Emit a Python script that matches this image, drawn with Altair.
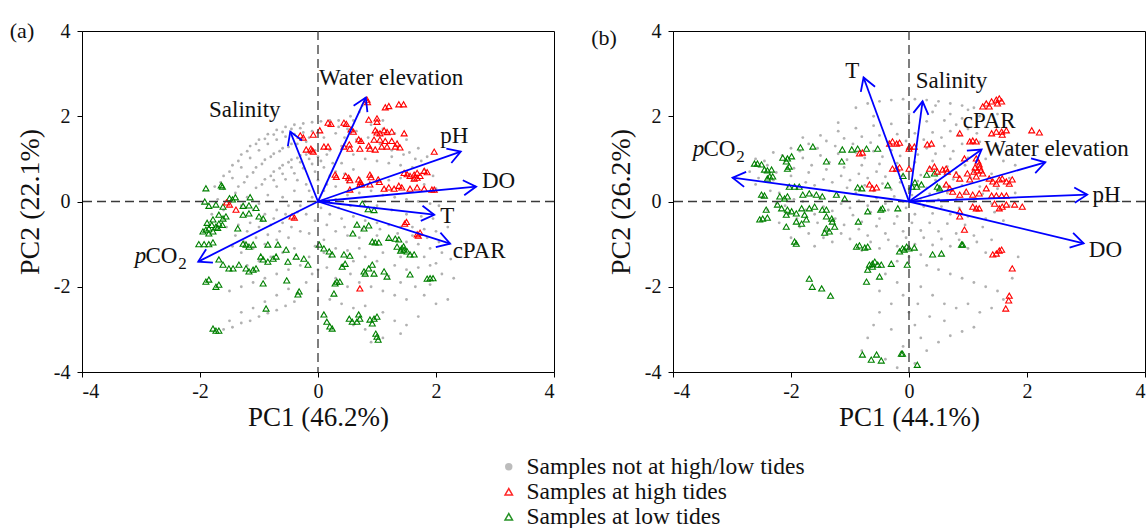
import math
import altair as alt
import pandas as pd

FONT = "Liberation Serif"
W, H = 472, 341
TICKS = [-4, -2, 0, 2, 4]
GROUPS = ["Samples not at high/low tides", "Samples at high tides", "Samples at low tides"]
FILLS = ["#a3a3a3", "transparent", "transparent"]
STROKES = ["transparent", "#ff0000", "#008000"]
SHAPES = ["circle", "triangle-up", "triangle-up"]
BLUE = "#0000ff"
CHEVRON = "M -0.6 1 L 0 0 L 0.6 1"

# ---------------- Panel (a) ----------------
gray_a = [
    (-1.75, 0.35), (-1.6, 0.6), (-1.45, 0.85), (-1.3, 1.1), (-1.15, 1.3), (-1.0, 1.45), (-0.85, 1.58),
    (-0.7, 1.68), (-0.55, 1.75), (-0.4, 1.8), (-0.25, 1.83), (-0.1, 1.86), (0.05, 1.88), (0.2, 1.9), (0.35, 1.9),
    (-1.6, 0.3), (-1.45, 0.55), (-1.3, 0.8), (-1.15, 1.02), (-1.0, 1.2), (-0.85, 1.35), (-0.7, 1.45),
    (-0.55, 1.52), (-0.4, 1.58), (-0.25, 1.62), (-0.1, 1.65),
    (-1.4, 0.2), (-1.25, 0.45), (-1.1, 0.68), (-0.95, 0.88), (-0.8, 1.05), (-0.65, 1.18), (-0.5, 1.28),
    (-0.35, 1.35), (-0.2, 1.4),
    (-1.2, 0.1), (-1.05, 0.32), (-0.9, 0.52), (-0.75, 0.7), (-0.6, 0.85), (-0.45, 0.98), (-0.3, 1.08), (-0.15, 1.15),
    (-1.0, -0.05), (-0.85, 0.15), (-0.7, 0.35), (-0.55, 0.52), (-0.4, 0.66), (-0.25, 0.78), (-0.1, 0.88), (0.05, 0.95),
    (-0.6, 0.1), (-0.4, 0.25), (-0.2, 0.4), (0.0, 0.5), (0.2, 0.6), (-0.3, -0.1), (-0.1, 0.1), (0.1, 0.25),
    (0.3, 0.35), (0.5, 0.45), (0.7, 0.55), (0.9, 0.6),
    (0.1, 1.5), (0.3, 1.6), (0.5, 1.7), (0.6, 1.9), (0.7, 2.1), (0.75, 2.25), (0.9, 1.8), (1.1, 1.7), (1.3, 1.6),
    (1.5, 1.45), (1.7, 1.25), (1.85, 1.05), (0.2, 1.2), (0.4, 1.3), (0.6, 1.1), (0.8, 1.0), (1.0, 0.95),
    (1.2, 0.9), (1.4, 0.85), (1.6, 0.8), (1.8, 0.75), (1.95, 0.6), (0.4, 0.9), (0.6, 0.75), (0.3, 0.05),
    (0.5, 0.15), (0.7, 0.2), (0.9, 0.25), (1.1, 0.15), (1.3, 0.1), (1.5, 0.05), (1.7, 0.0), (1.9, -0.05),
    (2.05, -0.1), (1.0, 0.45), (1.2, 0.5), (1.4, 0.55), (1.6, 0.5), (1.8, 0.4), (2.0, 0.3),
    (0.2, -0.3), (0.4, -0.4), (0.6, -0.35), (0.8, -0.45), (1.0, -0.5), (1.2, -0.55), (1.4, -0.6), (1.6, -0.6),
    (1.8, -0.65), (2.0, -0.7), (2.2, -0.6), (0.3, -0.7), (0.5, -0.8), (0.7, -0.85), (1.0, -0.8), (1.2, -0.9),
    (1.5, -0.95), (1.7, -1.0), (1.9, -1.1), (2.1, -1.2), (2.25, -1.35), (0.1, -0.9), (0.2, -1.3), (0.4, -1.5),
    (0.6, -1.4), (0.8, -1.3), (1.0, -1.4), (1.3, -1.5), (1.5, -1.6), (1.7, -1.55), (1.9, -1.5), (2.1, -1.7),
    (2.3, -1.8), (0.3, -1.8), (0.5, -2.0), (0.7, -1.9), (0.9, -2.0), (1.1, -2.1), (1.3, -2.2), (1.5, -2.3),
    (1.8, -2.2), (2.0, -2.4), (2.2, -2.3), (0.4, -2.4), (0.6, -2.5), (0.8, -2.45), (1.1, -2.6), (1.3, -2.8),
    (1.5, -2.9), (1.7, -2.7), (0.6, -2.9), (0.8, -3.0), (0.9, -3.3), (1.1, -3.2), (1.4, -3.1), (0.2, -2.3),
    (0.0, -2.1), (-0.2, -1.9), (0.0, -1.6), (-0.15, -1.3),
    (-0.2, -0.3), (-0.4, -0.4), (-0.6, -0.5), (-0.8, -0.55), (-1.0, -0.6), (-1.2, -0.7), (-1.4, -0.8),
    (-0.3, -0.7), (-0.5, -0.85), (-0.7, -0.9), (-0.9, -1.0), (-1.1, -1.1), (-1.3, -1.2), (-0.4, -1.1),
    (-0.6, -1.2), (-0.8, -1.3), (-1.0, -1.4), (-1.2, -1.5), (-0.3, -1.5), (-0.5, -1.6), (-0.7, -1.7),
    (-0.9, -1.8), (-1.1, -1.9), (-1.3, -2.0), (-1.5, -2.1), (-1.6, -0.2), (-1.8, -0.3), (-1.7, 0.05),
    (-1.5, 0.0), (-1.3, -0.1), (-1.1, -0.2), (-0.9, -0.3), (-0.7, -0.2), (-0.5, -0.1),
    (-1.6, -3.0), (-1.45, -2.95), (-1.3, -2.85), (-1.15, -2.8), (-1.0, -2.7), (-0.85, -2.62), (-0.7, -2.55),
    (-0.55, -2.45), (-0.4, -2.35), (-1.5, -2.8), (-1.3, -2.6), (-1.1, -2.5), (-0.9, -2.35), (-0.7, -2.2), (-0.5, -2.05),
    (-1.65, 0.45), (-1.5, 0.7), (-1.35, 0.95), (-1.2, 1.18), (-1.05, 1.35), (-0.9, 1.47), (-0.75, 1.57),
    (-0.6, 1.63), (-0.45, 1.7), (-0.3, 1.72), (-1.35, 0.35), (-1.2, 0.58), (-1.05, 0.8), (-0.9, 0.98),
    (-0.75, 1.12), (-0.6, 1.25), (-0.45, 1.35), (-0.3, 1.45), (-0.15, 1.5), (-0.95, 0.4), (-0.8, 0.6),
    (-0.65, 0.78), (-0.5, 0.92), (-0.35, 1.02), (-0.2, 1.1), (-0.05, 1.2), (-0.75, 0.5), (-0.6, 0.65),
    (-0.45, 0.8), (-0.3, 0.92), (-0.15, 1.0), (0.0, 1.05), (0.15, 1.1), (-0.05, 0.7), (0.1, 0.8),
    (0.25, 0.9), (0.3, 0.7), (0.45, 0.65), (0.15, 0.4), (-0.15, 0.25), (-0.35, 0.5), (0.05, -0.15),
    (0.35, -0.15), (0.55, -0.1), (0.8, 0.0), (1.0, -0.1), (1.25, -0.2), (1.5, -0.3), (1.75, -0.35),
    (1.95, -0.4), (0.15, -0.55), (0.45, -0.6), (0.75, -0.65), (1.05, -0.65), (1.35, -0.75), (1.6, -0.8),
    (1.85, -0.85), (2.05, -0.95), (-0.05, -0.45), (-0.15, -0.75), (-0.05, -1.05), (0.1, -1.2), (0.3, -1.1),
    (0.5, -1.15), (0.7, -1.1), (1.1, -1.2), (1.4, -1.3), (1.8, -1.3), (2.0, -1.45), (1.2, -1.75),
    (1.4, -1.9), (1.65, -2.0), (1.9, -1.95), (0.55, -1.7), (0.15, -1.55), (-0.1, -1.7), (-0.35, -0.25),
    (-0.55, -0.3), (-0.75, -0.4), (-0.95, -0.45), (-1.15, -0.5), (-1.35, -0.55), (-1.55, -0.6),
    (-0.45, -0.6), (-0.65, -0.7), (-0.85, -0.78), (-1.05, -0.85), (-1.25, -0.95), (-1.45, -1.05),
    (0.45, 1.5), (0.65, 1.45), (0.85, 1.5), (1.05, 1.35), (1.25, 1.2), (1.45, 1.1), (1.65, 1.0),
    (1.25, 1.05), (1.55, 1.15), (1.75, 0.95), (0.55, 2.0), (0.65, 1.65), (0.35, 1.75), (1.1, 1.9),
]
red_a = [
    (0.83, 2.39), (0.84, 2.33), (1.14, 2.21), (1.20, 2.24), (1.37, 2.28), (1.45, 2.28), (1.0, 1.95), (1.0, 1.87),
    (0.86, 1.92), (0.17, 1.85), (0.22, 1.82), (0.03, 1.67), (0.44, 1.85), (0.48, 1.82), (0.56, 1.69), (0.6, 1.64),
    (0.97, 1.67), (1.0, 1.62), (1.05, 1.60), (1.12, 1.67), (1.17, 1.63), (1.25, 1.64), (1.46, 1.60),
    (0.69, 1.46), (0.73, 1.42), (0.95, 1.45), (1.05, 1.45), (1.14, 1.42), (1.25, 1.42), (1.34, 1.36),
    (0.17, 1.29), (0.10, 1.29), (0.44, 1.29), (0.53, 1.34), (0.54, 1.24), (0.71, 1.24), (0.86, 1.31), (0.88, 1.24),
    (0.97, 1.22), (1.08, 1.29), (1.17, 1.29), (1.31, 1.29), (1.39, 1.27), (1.97, 1.17),
    (0.29, 0.63), (0.31, 0.58), (0.47, 0.60), (0.52, 0.56), (0.54, 0.50), (0.69, 0.52), (0.72, 0.46), (0.74, 0.40),
    (0.88, 0.63), (0.9, 0.57), (1.02, 0.52), (1.04, 0.46),
    (1.46, 0.67), (1.51, 0.64), (1.56, 0.60), (1.63, 0.63), (1.68, 0.67), (1.73, 0.60), (1.80, 0.72), (1.85, 0.69),
    (1.63, 0.54), (1.68, 0.56),
    (1.12, 0.30), (1.20, 0.33), (1.29, 0.30), (1.37, 0.37), (1.42, 0.33), (1.56, 0.30), (1.68, 0.33), (1.80, 0.30),
    (1.93, 0.28), (1.97, 0.28), (0.54, 0.28), (0.88, 0.40), (0.71, 0.40),
    (-0.30, 1.55), (-0.25, 1.50), (-0.12, 1.24), (-0.08, 1.17), (-0.10, 1.20), (-0.08, 1.57), (-0.2, 1.22),
    (-0.44, -0.35), (-0.40, -0.38), (-1.50, -0.07), (-1.39, -0.19), (-1.55, -0.02),
    (1.47, -0.52), (1.50, -0.48), (1.68, -0.77), (1.73, -0.73), (1.70, -0.80), (0.71, -2.04),
]
green_a = [
    (-1.95, -0.70), (-1.90, -0.66), (-1.85, -0.63), (-1.78, -0.70), (-1.73, -0.59), (-1.68, -0.52), (-1.61, -0.40),
    (-1.56, -0.35), (-1.68, -0.31), (-1.78, -0.42), (-1.85, -0.75), (-1.80, -0.55), (-1.70, -0.62), (-1.62, -0.55),
    (-1.88, -0.50), (-2.02, -1.00), (-1.93, -1.00), (-1.85, -1.00), (-1.78, -0.96),
    (-1.68, -1.36), (-1.61, -1.48), (-1.51, -1.57), (-1.44, -1.57),
    (-1.90, -1.88), (-1.85, -1.83), (-1.73, -2.00), (-1.68, -1.95),
    (-1.78, -2.98), (-1.73, -3.03), (-1.68, -3.03),
    (-1.85, -0.10), (-1.73, -0.07), (-1.61, -0.12), (-1.27, -0.10), (-1.17, -0.09), (-1.05, -0.15), (-1.92, 0.0),
    (-1.5, 0.08), (-1.4, 0.1), (-1.45, 0.05), (-1.15, 0.1),
    (-1.00, -0.35), (-0.93, -0.40), (-1.27, -0.31), (-1.17, -0.28), (-1.36, -0.63),
    (-1.27, -0.99), (-1.22, -1.01), (-1.17, -1.06), (-1.10, -1.01),
    (-0.97, -1.29), (-0.93, -1.36), (-0.85, -1.41), (-0.76, -1.34), (-0.71, -1.29),
    (-0.85, -1.01), (-0.68, -1.01), (-0.54, -1.13),
    (-1.34, -1.48), (-1.22, -1.57), (-1.17, -1.64), (-1.10, -1.60), (-1.05, -1.57),
    (-0.93, -1.92), (-0.53, -1.85), (-0.37, -1.29), (-0.24, -1.34), (-0.17, -1.48), (-0.51, -1.41),
    (-0.32, -2.11), (-0.34, -2.18), (-0.88, -2.51),
    (-1.90, 0.31), (-1.64, 0.38), (-1.62, 0.35),
    (0.02, -1.01), (0.10, -1.10), (0.19, -1.17), (0.24, -1.24), (0.44, -1.24), (0.54, -1.27), (0.59, -0.75),
    (0.66, -0.54), (0.78, -0.63), (0.86, -0.56),
    (0.41, -1.53), (0.46, -1.46), (0.78, -1.64), (0.80, -1.69), (0.86, -1.57), (0.92, -1.48), (0.95, -1.69),
    (1.12, -1.64), (1.17, -1.76),
    (0.92, -0.94), (0.97, -0.96), (1.03, -0.96), (1.20, -0.85), (1.31, -0.87), (1.34, -1.06), (1.42, -1.10),
    (1.46, -1.13), (1.51, -1.17), (1.56, -1.24), (1.63, -1.24), (1.37, -0.89), (1.40, -1.15), (1.45, -1.05),
    (1.56, -1.71), (1.85, -1.81), (1.90, -1.80), (1.95, -1.80),
    (0.29, -1.92), (0.32, -1.88), (0.37, -1.88), (0.27, -2.16),
    (0.10, -2.65), (0.15, -2.82), (0.20, -2.93), (0.24, -2.98),
    (0.53, -2.75), (0.58, -2.82), (0.66, -2.82), (0.69, -2.65), (0.71, -2.75),
    (0.88, -2.77), (0.95, -2.75), (1.00, -2.70), (0.92, -2.86),
    (0.98, -3.10), (1.00, -3.17), (1.02, -3.24),
    (0.75, -0.05), (0.85, -0.18), (0.95, -0.2),
]
vars_a = ["Water elevation", "Salinity", "pH", "DO", "T", "cPAR", "pCO2"]
tip_x_a = [0.81, -0.47, 2.42, 2.68, 1.97, 2.24, -2.03]
tip_y_a = [2.44, 1.64, 1.17, 0.35, -0.31, -0.99, -1.41]
lab_x_a = [1.24, -1.24, 2.31, 3.06, 2.19, 2.73, -2.67]
lab_y_a = [2.89, 2.14, 1.53, 0.47, -0.35, -1.17, -1.29]

# ---------------- Panel (b) ----------------
gray_b = [
    (-0.9, 2.2), (-0.7, 2.3), (-0.5, 2.35), (-0.3, 2.38), (-0.1, 2.4), (0.1, 2.4), (0.3, 2.38), (0.5, 2.35),
    (0.7, 2.3), (0.9, 2.25), (1.1, 2.2),
    (-1.5, 1.55), (-1.2, 1.65), (-0.9, 1.72), (-0.6, 1.78), (-0.3, 1.82), (0.0, 1.85), (0.3, 1.88), (0.6, 1.9),
    (0.9, 1.95), (1.2, 2.0), (1.5, 2.05), (0.4, 2.1), (0.7, 2.05), (1.0, 2.15),
    (-2.6, 1.0), (-2.3, 1.15), (-2.0, 1.25), (-1.7, 1.35), (-1.4, 1.42), (-1.1, 1.48), (-0.8, 1.52), (-0.5, 1.55),
    (-0.2, 1.58), (0.1, 1.6), (0.4, 1.62), (0.7, 1.65), (1.0, 1.7), (1.3, 1.75),
    (-2.7, 0.7), (-2.4, 0.85), (-2.1, 0.95), (-1.8, 1.02), (-1.5, 1.08), (-1.2, 1.12), (-0.9, 1.15), (-0.6, 1.18),
    (-0.3, 1.2), (0.0, 1.22), (0.3, 1.25), (0.6, 1.3), (0.9, 1.35), (1.2, 1.4), (1.5, 1.3), (1.7, 1.2),
    (-2.6, 0.4), (-2.3, 0.5), (-2.0, 0.6), (-1.7, 0.68), (-1.4, 0.75), (-1.1, 0.8), (-0.8, 0.85), (-0.5, 0.88),
    (-0.2, 0.9), (0.1, 0.92), (0.4, 0.95), (0.7, 1.0), (1.0, 1.02), (1.3, 1.0), (1.6, 0.95), (1.8, 0.85),
    (-2.5, 0.1), (-2.2, 0.2), (-1.9, 0.3), (-1.6, 0.38), (-1.3, 0.45), (-1.0, 0.5), (-0.7, 0.55), (-0.4, 0.58),
    (-0.1, 0.6), (0.2, 0.62), (0.5, 0.65), (0.8, 0.68), (1.1, 0.7), (1.4, 0.65), (1.7, 0.55),
    (-2.4, -0.2), (-2.1, -0.1), (-1.8, 0.0), (-1.5, 0.08), (-1.2, 0.15), (-0.9, 0.2), (-0.6, 0.25), (-0.3, 0.28),
    (0.0, 0.3), (0.3, 0.32), (0.6, 0.35), (0.9, 0.38), (1.2, 0.35), (1.5, 0.3), (1.8, 0.2),
    (-2.2, -0.5), (-1.9, -0.4), (-1.6, -0.3), (-1.3, -0.22), (-1.0, -0.15), (-0.7, -0.1), (-0.4, -0.05),
    (-0.1, 0.0), (0.2, 0.02), (0.5, 0.05), (0.8, 0.05), (1.1, 0.0), (1.4, -0.05), (1.7, -0.1),
    (-2.0, -0.85), (-1.7, -0.75), (-1.4, -0.65), (-1.1, -0.55), (-0.8, -0.48), (-0.5, -0.4), (-0.2, -0.35),
    (0.1, -0.3), (0.4, -0.28), (0.7, -0.3), (1.0, -0.35), (1.3, -0.4), (1.6, -0.45),
    (-1.6, -1.05), (-1.3, -0.95), (-1.0, -0.88), (-0.7, -0.8), (-0.4, -0.75), (-0.1, -0.7), (0.2, -0.68),
    (0.5, -0.7), (0.8, -0.75), (1.1, -0.8), (1.4, -0.9),
    (-0.8, -1.15), (-0.5, -1.1), (-0.2, -1.05), (0.1, -1.0), (0.4, -1.02), (0.7, -1.05), (1.0, -1.1), (1.3, -1.2),
    (-0.6, -1.5), (-0.4, -1.7), (-0.2, -1.9), (-0.1, -2.2), (-0.3, -2.4), (-0.5, -2.6), (-0.6, -2.9), (-0.7, -3.2),
    (-0.8, -3.5), (0.0, -2.6), (0.1, -2.9), (0.2, -3.2), (0.3, -3.5), (0.1, -3.8), (-0.2, -3.9), (-0.4, -3.7),
    (0.5, -3.3), (0.7, -3.15), (0.9, -3.05), (1.1, -2.95), (0.3, -1.5), (0.5, -1.6), (0.7, -1.7), (0.9, -1.8),
    (1.1, -1.9), (1.3, -2.0), (1.5, -2.1), (0.2, -2.0), (0.4, -2.2), (0.6, -2.4), (0.8, -2.5), (1.0, -2.4),
    (1.2, -2.6), (1.4, -2.5), (1.6, -2.3), (1.75, -1.8), (1.85, -1.3), (0.0, -1.3), (-0.2, -1.4), (0.2, -1.25),
    (-0.3, -3.0), (-0.1, -3.4), (0.15, -2.4), (-0.5, -2.1), (0.6, -2.8), (0.35, -2.7),
    (-2.45, 0.95), (-2.15, 1.08), (-1.85, 1.18), (-1.55, 1.25), (-1.25, 1.3), (-0.95, 1.35), (-0.65, 1.38),
    (-0.35, 1.4), (-0.05, 1.42), (0.25, 1.45), (0.55, 1.5), (0.85, 1.55), (-2.55, 0.55), (-2.25, 0.68),
    (-1.95, 0.78), (-1.65, 0.85), (-1.35, 0.92), (-1.05, 0.98), (-0.75, 1.02), (-0.45, 1.05), (-0.15, 1.07),
    (0.15, 1.1), (0.45, 1.12), (0.75, 1.18), (-2.35, 0.25), (-2.05, 0.35), (-1.75, 0.45), (-1.45, 0.52),
    (-1.15, 0.6), (-0.85, 0.65), (-0.55, 0.7), (-0.25, 0.72), (0.05, 0.75), (0.35, 0.8), (0.65, 0.82),
    (0.95, 0.85), (-2.25, -0.05), (-1.95, 0.05), (-1.65, 0.15), (-1.35, 0.25), (-1.05, 0.32), (-0.75, 0.38),
    (-0.45, 0.42), (-0.15, 0.45), (0.15, 0.48), (0.45, 0.5), (0.75, 0.52), (1.05, 0.55), (-2.05, -0.3),
    (-1.75, -0.2), (-1.45, -0.12), (-1.15, -0.05), (-0.85, 0.02), (-0.55, 0.08), (-0.25, 0.12), (0.05, 0.15),
    (0.35, 0.18), (0.65, 0.2), (0.95, 0.2), (1.25, 0.18), (-1.85, -0.6), (-1.55, -0.5), (-1.25, -0.4),
    (-0.95, -0.32), (-0.65, -0.25), (-0.35, -0.2), (-0.05, -0.15), (0.25, -0.12), (0.55, -0.12), (0.85, -0.15),
    (1.15, -0.2), (1.45, -0.25), (-1.45, -0.85), (-1.15, -0.75), (-0.85, -0.65), (-0.55, -0.58),
    (-0.25, -0.52), (0.05, -0.5), (0.35, -0.5), (0.65, -0.52), (0.95, -0.55), (1.25, -0.6), (-0.65, -0.95),
    (-0.35, -0.9), (-0.05, -0.85), (0.25, -0.85), (0.55, -0.88), (0.85, -0.9), (1.15, -0.95),
    (-1.8, 1.5), (-1.2, 1.85), (-0.6, 2.0), (0.0, 2.05), (0.45, 2.25), (0.8, 1.8), (1.15, 1.6),
]
red_b = [
    (1.31, 2.30), (1.40, 2.35), (1.48, 2.39), (1.50, 2.30), (1.53, 2.42), (1.57, 2.35), (1.25, 2.23), (1.36, 2.23),
    (0.86, 1.60), (1.40, 1.60), (1.48, 1.64), (1.57, 1.64), (1.65, 1.67), (1.58, 1.57), (2.08, 1.67), (2.21, 1.62),
    (0.01, 1.29), (0.09, 1.29), (0.31, 1.34), (0.38, 1.36), (1.03, 1.41), (1.08, 1.43), (1.14, 1.41),
    (0.94, 1.01), (1.14, 1.01), (1.17, 0.94), (1.19, 0.87), (1.20, 0.80), (1.22, 0.73), (1.25, 0.66), (1.16, 0.73),
    (1.14, 0.59), (1.12, 0.80), (1.10, 0.70),
    (0.35, 0.77), (0.43, 0.82), (0.48, 0.70), (0.57, 0.75), (0.63, 0.77), (0.65, 0.70),
    (0.80, 0.63), (0.86, 0.54), (0.99, 0.66), (1.03, 0.52),
    (1.36, 0.54), (1.42, 0.47), (1.48, 0.42), (1.53, 0.52), (1.58, 0.54), (1.65, 0.47), (1.70, 0.42), (1.75, 0.52),
    (0.63, 0.40), (0.69, 0.31), (0.74, 0.23), (0.86, 0.16), (0.97, 0.23), (1.08, 0.16), (1.19, 0.19), (1.31, 0.31),
    (1.40, 0.14), (1.48, 0.14), (1.57, 0.14), (1.65, 0.14),
    (-0.33, 1.36), (-0.28, 1.41), (-0.21, 1.36), (-0.16, 1.38), (-0.84, 1.13), (-0.79, 1.15), (0.0, 1.24),
    (-0.28, 0.77), (-0.21, 0.77), (-0.16, 0.80), (-0.67, 0.40), (-0.62, 0.31), (-0.55, 0.33), (0.0, 0.77),
    (0.86, -0.35), (0.86, -0.23), (0.94, -0.66), (1.08, -0.12), (1.14, -0.16), (1.19, -0.16), (1.45, -0.05),
    (1.53, -0.16), (1.58, -0.12), (1.65, -0.07), (1.79, -0.07), (1.92, -0.12),
    (1.42, -1.24), (1.48, -1.22), (1.53, -1.15), (1.57, -1.13), (1.75, -1.57),
    (1.70, -2.21), (1.69, -2.32), (1.64, -2.51),
]
green_b = [
    (-1.84, 1.27), (-1.63, 1.29), (-2.14, 1.03), (-2.06, 1.01), (-1.99, 1.06), (-2.08, 0.94), (-2.06, 0.77),
    (-2.03, 0.82), (-2.62, 0.89), (-2.57, 0.89), (-2.50, 0.87), (-2.45, 0.75), (-2.40, 0.73), (-2.33, 0.75),
    (-2.36, 0.59), (-2.40, 0.54), (-2.31, 0.59), (-2.50, 0.16), (-2.45, 0.14), (-2.19, 0.12), (-2.11, 0.07),
    (-2.06, 0.12), (-2.03, 0.35), (-1.94, 0.35), (-1.86, 0.35), (-1.80, 0.16), (-1.69, 0.19), (-1.57, 0.16),
    (-1.47, 0.12), (-1.40, 0.94), (-1.14, 0.94), (-1.13, 1.22), (-0.97, 1.22), (-0.87, 1.24), (-0.72, 1.24),
    (-0.53, 1.24), (-0.87, 0.33), (-0.80, 0.31), (-0.36, 0.38), (-1.23, 0.16), (-1.09, 0.07),
    (-2.42, -0.19), (-2.48, -0.40), (-2.53, -0.42), (-2.40, -0.38),
    (-2.23, -0.07), (-2.16, -0.16), (-2.06, -0.19), (-1.99, -0.23), (-1.91, -0.28), (-1.82, -0.16), (-1.77, -0.31),
    (-1.74, -0.42), (-1.82, -0.52), (-2.08, -0.31), (-2.08, -0.59), (-1.91, -0.47), (-1.94, -0.94), (-1.91, -0.99),
    (-1.69, -0.16), (-1.60, -0.12), (-1.47, -0.19), (-1.40, -0.19), (-1.40, -0.35), (-1.31, -0.40), (-1.30, -0.47),
    (-1.26, -0.59), (-1.40, -0.63), (-1.35, -0.70), (-1.43, -0.73),
    (-1.69, -1.81), (-1.64, -2.00), (-1.48, -2.04), (-1.33, -2.21),
    (-0.89, -1.06), (-0.84, -1.03), (-0.75, -1.08), (-0.70, -1.06),
    (-0.67, -1.48), (-0.62, -1.46), (-0.58, -1.41), (-0.53, -1.48), (-0.47, -1.48), (-0.70, -1.60), (-0.62, -1.53),
    (-0.72, -1.88), (-0.50, -1.76), (-0.30, -1.46),
    (-0.70, -0.23), (-0.48, -0.19), (-0.45, -0.16), (-0.19, -0.16), (-0.86, -0.47),
    (-0.16, -1.17), (-0.11, -1.10), (-0.04, -1.06), (-0.08, -1.13), (-0.03, -1.48),
    (-0.79, -3.59), (-0.64, -3.71), (-0.55, -3.59), (-0.47, -3.73), (-0.13, -3.57), (-0.11, -3.57),
    (0.89, -1.01), (0.91, -1.01), (0.40, -1.24), (0.55, -1.22), (0.09, -1.08), (0.0, -1.10), (0.14, -3.83),
    (0.30, 0.63), (0.43, 0.66), (0.13, 0.35), (0.21, 0.40), (0.48, 0.35), (0.52, 0.31),
    (-0.10, 0.60), (0.10, 0.45), (0.05, 0.35),
]
vars_b = ["T", "pCO2", "Salinity", "cPAR", "Water elevation", "pH", "DO"]
tip_x_b = [-0.77, -2.99, 0.23, 1.23, 2.31, 3.02, 2.96]
tip_y_b = [2.91, 0.56, 2.35, 1.22, 0.92, 0.16, -0.98]
lab_x_b = [-0.96, -3.23, 0.72, 1.36, 2.50, 3.35, 3.33]
lab_y_b = [3.05, 1.22, 2.82, 1.88, 1.22, 0.16, -1.13]


def panel(gray, red, green, names, tx, ty, lx, ly, letter, letter_pos, xtitle, ytitle):
    xs = alt.Scale(domain=[-4, 4], nice=False, zero=False)
    ys = alt.Scale(domain=[-4, 4], nice=False, zero=False)
    xax = alt.Axis(values=TICKS, title=xtitle, labelExpr="datum.value + ''")
    yax = alt.Axis(values=TICKS, title=ytitle, labelExpr="datum.value + ''")

    def X(f):
        return alt.X(f, type="quantitative", scale=xs, axis=xax)

    def Y(f):
        return alt.Y(f, type="quantitative", scale=ys, axis=yax)

    fill = alt.Fill("group:N", scale=alt.Scale(domain=GROUPS, range=FILLS), title=None)
    stroke = alt.Stroke("group:N", scale=alt.Scale(domain=GROUPS, range=STROKES), title=None)
    shape = alt.Shape("group:N", scale=alt.Scale(domain=GROUPS, range=SHAPES), title=None)

    gdf = pd.DataFrame(gray, columns=["x", "y"]).assign(group=GROUPS[0])
    tdf = pd.concat([
        pd.DataFrame(green, columns=["x", "y"]).assign(group=GROUPS[2]),
        pd.DataFrame(red, columns=["x", "y"]).assign(group=GROUPS[1]),
    ], ignore_index=True)

    g_layer = alt.Chart(gdf).mark_point(size=8, strokeWidth=0, opacity=0.85).encode(
        x=X("x"), y=Y("y"), fill=fill, stroke=stroke, shape=shape)
    t_layer = alt.Chart(tdf).mark_point(size=36, strokeWidth=1.1, opacity=1).encode(
        x=X("x"), y=Y("y"), fill=fill, stroke=stroke, shape=shape)

    zero = pd.DataFrame({"x": [0.0], "y": [0.0]})
    vline = alt.Chart(zero).mark_rule(color="#3a3a3a", strokeDash=[9, 5], strokeWidth=1.3).encode(x=X("x"))
    hline = alt.Chart(zero).mark_rule(color="#3a3a3a", strokeDash=[9, 5], strokeWidth=1.3).encode(y=Y("y"))

    px_x = W / 8.0
    px_y = H / 8.0
    angles = [(math.degrees(math.atan2(a * px_x, b * px_y)) + 360.0) % 360.0 for a, b in zip(tx, ty)]
    adf = pd.DataFrame({"name": names, "x0": 0.0, "y0": 0.0, "x": tx, "y": ty, "ang": angles})
    shafts = alt.Chart(adf).mark_rule(color=BLUE, strokeWidth=1.8).encode(
        x=X("x0"), y=Y("y0"), x2="x", y2="y")
    heads = alt.Chart(adf).mark_point(shape=CHEVRON, size=640, filled=False, color=BLUE,
                                       strokeWidth=1.8, opacity=1).encode(
        x=X("x"), y=Y("y"), angle=alt.Angle("ang:Q", scale=None))

    ldf = pd.DataFrame({"name": names, "x": lx, "y": ly})
    plain = ldf[ldf["name"] != "pCO2"]
    pco = ldf[ldf["name"] == "pCO2"]
    txt = dict(font=FONT, fontSize=23, color="#111111", baseline="middle", align="center")
    labels = alt.Chart(plain).mark_text(**txt).encode(x=X("x"), y=Y("y"), text="name:N")
    p_lab = alt.Chart(pco).mark_text(dx=-20, fontStyle="italic", **txt).encode(
        x=X("x"), y=Y("y"), text=alt.value("p"))
    co_lab = alt.Chart(pco).mark_text(dx=1, **txt).encode(x=X("x"), y=Y("y"), text=alt.value("CO"))
    two_lab = alt.Chart(pco).mark_text(dx=22, dy=8, font=FONT, fontSize=17, color="#111111",
                                       baseline="middle", align="center").encode(
        x=X("x"), y=Y("y"), text=alt.value("2"))

    let = alt.Chart(pd.DataFrame({"t": [letter]})).mark_text(
        font=FONT, fontSize=22, color="#111111", align="center", baseline="middle").encode(
        x=alt.value(letter_pos[0]), y=alt.value(letter_pos[1]), text="t:N")

    return alt.layer(g_layer, t_layer, vline, hline, shafts, heads, labels, p_lab, co_lab, two_lab, let).properties(
        width=W, height=H)


pa = panel(gray_a, red_a, green_a, vars_a, tip_x_a, tip_y_a, lab_x_a, lab_y_a,
           "(a)", (-60, 0), "PC1 (46.2%)", "PC2 (22.1%)")
pb = panel(gray_b, red_b, green_b, vars_b, tip_x_b, tip_y_b, lab_x_b, lab_y_b,
           "(b)", (-69, 7), "PC1 (44.1%)", "PC2 (26.2%)")

chart = alt.hconcat(pa, pb, spacing=34).properties(
    padding={"left": 9, "top": 19, "right": 0, "bottom": 0},
    background="white",
).configure_view(
    stroke="black", strokeWidth=1
).configure_axis(
    grid=False, domainColor="black", domainWidth=1, tickColor="black", tickSize=5, tickWidth=1,
    labelFont=FONT, labelFontSize=20, labelColor="#111111", labelPadding=7,
    titleFont=FONT, titleFontSize=28, titleFontWeight="normal", titleColor="#111111",
).configure_axisX(
    labelPadding=4, titleFontSize=27, titlePadding=3
).configure_axisY(
    titlePadding=9
).configure_legend(
    orient="none", legendX=415, legendY=424, labelFont=FONT, labelFontSize=23.5, labelColor="#111111",
    labelLimit=600, symbolSize=55, symbolStrokeWidth=1.5, rowPadding=0, labelOffset=6,
)

chart.save("out.html", embed_options={"renderer": "svg", "actions": False})
